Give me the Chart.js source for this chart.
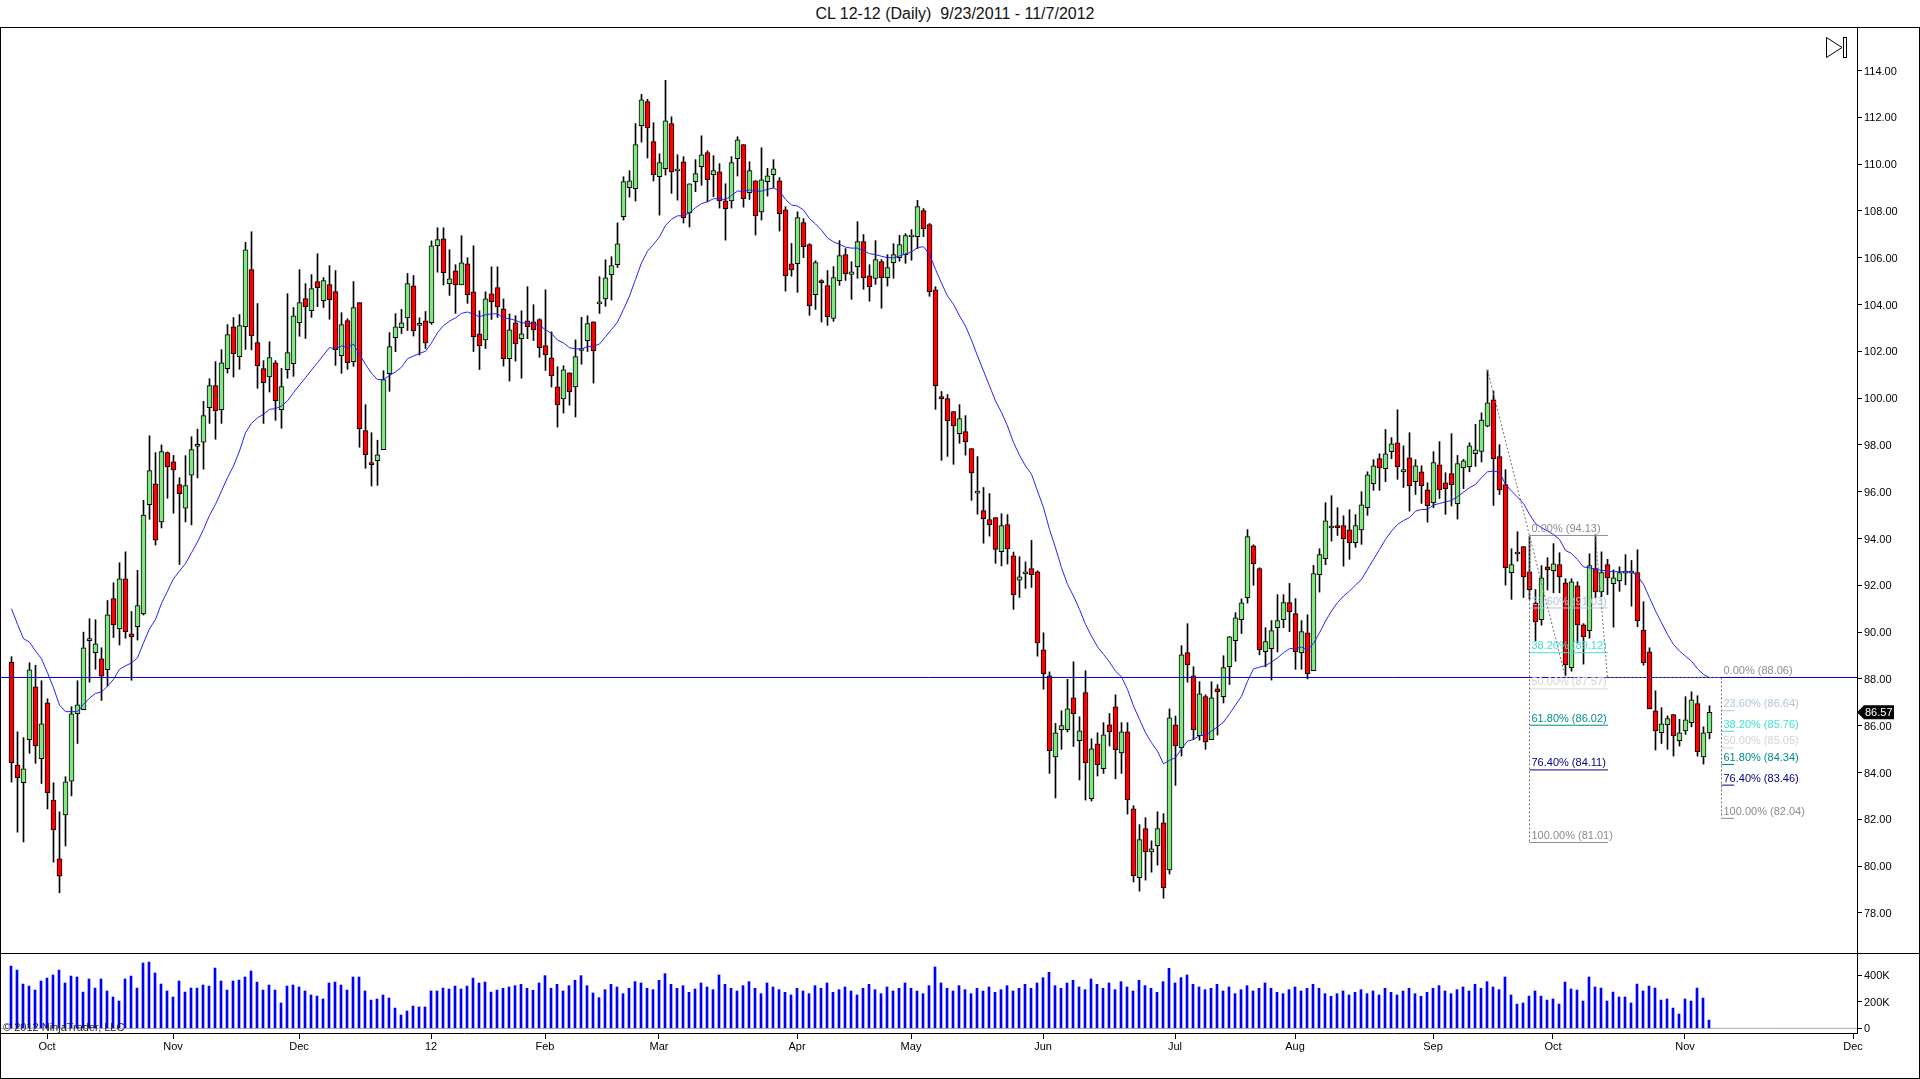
<!DOCTYPE html>
<html>
<head>
<meta charset="utf-8">
<title>CL 12-12 (Daily)</title>
<script src="https://cdn.jsdelivr.net/npm/chart.js@4"></script>
<style>
  html, body { margin: 0; padding: 0; background: #fff; overflow: hidden; }
  #title { position: absolute; left: 0; top: 5px; width: 1910px; text-align: center; white-space: pre;
           font: 16px "Liberation Sans", Arial, sans-serif; color: #111; }
  #frame { position: absolute; left: 0; top: 27px; width: 1918px; height: 1050px; border: 1px solid #000; pointer-events: none; }
  #sep { position: absolute; left: 0; top: 953px; width: 1920px; height: 1px; background: #000; }
  canvas { position: absolute; left: 0; }
  #priceChart { top: 28px; }
  #volumeChart { top: 953px; }
  #endIcon { position: absolute; left: 1820px; top: 32px; }
</style>
</head>
<body>
<div id="title">CL 12-12 (Daily)  9/23/2011 - 11/7/2012</div>
<canvas id="priceChart" width="1920" height="925"></canvas>
<canvas id="volumeChart" width="1920" height="126"></canvas>
<div id="sep"></div>
<div id="frame"></div>
<svg id="endIcon" width="32" height="32"><polygon points="6.5,5.5 6.5,25.5 22,15.5" fill="none" stroke="#000"/><rect x="23.5" y="5.5" width="3" height="20" fill="none" stroke="#000"/></svg>
<script>
// Donnees
const monthTicks = [6, 27, 48, 70, 89, 108, 131, 150, 172, 194, 214, 237, 257, 279, 307];
const monthLabels = ['Oct', 'Nov', 'Dec', '12', 'Feb', 'Mar', 'Apr', 'May', 'Jun', 'Jul', 'Aug', 'Sep', 'Oct', 'Nov', 'Dec'];
const priceTicks = [78, 80, 82, 84, 86, 88, 90, 92, 94, 96, 98, 100, 102, 104, 106, 108, 110, 112, 114];
const volumeTicks = [0, 200, 400];

const high = [
  88.95,85.74,85.49,88.69,88.58,87.92,87.15,83.56,82.32,83.82,
  86.81,87.92,90.0,90.57,90.53,89.33,91.35,92.11,92.96,93.43,
  90.88,92.64,95.63,98.39,97.67,98.0,97.7,97.55,96.6,97.54,
  98.35,98.67,99.86,100.83,101.56,102.07,103.14,103.44,103.57,106.66,
  107.11,104.04,101.6,102.41,101.6,101.27,104.46,103.87,105.49,104.89,
  105.28,106.17,105.15,105.66,105.45,103.65,103.39,104.98,104.08,99.72,
  98.52,98.2,101.17,102.8,103.61,103.79,105.33,105.24,103.43,103.7,
  106.72,107.28,107.28,106.34,105.7,106.94,106.0,106.51,103.73,104.54,
  105.61,105.61,104.24,103.6,103.52,103.73,104.76,103.99,103.39,104.63,
  102.83,101.34,101.38,101.08,102.49,103.45,103.52,103.26,105.19,105.91,
  106.04,107.49,109.46,109.72,111.73,112.98,112.77,111.77,110.44,113.58,
  112.02,110.4,110.32,109.16,110.19,111.21,110.57,110.36,110.02,109.16,
  110.32,111.17,110.83,110.1,109.29,110.7,109.82,110.19,109.42,108.18,
  106.61,107.96,107.67,106.6,105.87,105.06,105.45,105.62,106.73,106.39,
  105.83,107.54,106.99,105.7,106.73,105.92,106.13,106.6,106.96,107.03,
  107.2,108.45,108.1,107.46,104.76,100.28,100.15,99.42,99.72,99.25,
  97.84,97.5,96.18,95.92,94.89,95.06,95.02,93.42,93.22,93.0,
  93.92,92.62,89.97,88.3,86.1,86.64,87.98,88.73,86.38,88.35,
  85.44,85.7,86.13,86.52,87.32,86.13,86.13,82.58,81.77,82.07,
  81.08,82.32,82.24,86.72,86.41,89.42,90.36,88.52,87.88,87.32,
  87.88,87.75,88.99,89.81,90.83,91.42,94.38,93.73,92.75,90.19,
  90.49,91.6,91.6,92.08,91.43,90.49,90.74,92.85,93.56,95.53,
  95.83,95.32,94.97,95.23,95.02,96.0,96.85,97.37,97.62,98.66,
  98.31,99.5,97.96,98.52,97.37,97.11,96.38,97.71,98.14,96.81,
  98.48,97.55,97.38,98.09,98.88,99.37,101.2,100.3,98.01,96.94,
  93.56,94.29,93.65,94.1,91.82,92.84,93.18,93.78,93.39,92.28,
  92.28,92.15,90.36,93.35,94.16,93.43,93.11,92.66,92.79,93.31,
  93.06,93.52,91.3,89.33,87.49,86.77,86.42,86.47,86.27,87.24,
  87.45,87.28,85.95,86.85
];
const low = [
  83.59,81.45,81.03,84.82,84.39,83.53,82.44,80.17,78.86,80.86,
  83.0,85.24,86.68,87.86,88.41,87.08,87.69,89.77,89.45,89.74,
  87.94,89.66,90.73,94.82,93.72,94.45,95.72,95.08,92.89,94.71,
  94.58,96.59,96.96,98.92,98.24,98.92,101.07,100.9,101.23,102.08,
  102.06,100.42,98.92,100.26,99.05,98.71,100.85,100.93,102.64,102.55,
  103.45,103.91,103.87,103.37,101.4,101.06,101.23,101.36,97.9,97.0,
  96.24,96.27,97.8,100.29,101.98,102.76,102.89,102.65,101.84,102.12,
  103.15,105.38,104.83,104.39,103.62,104.84,104.05,101.99,101.22,102.12,
  103.36,103.45,101.37,100.73,101.58,100.85,102.54,102.46,101.74,101.18,
  100.47,98.76,99.36,99.7,99.19,101.45,101.99,100.64,103.62,103.92,
  104.19,105.58,107.61,108.59,108.42,110.94,110.26,109.28,107.82,109.53,
  108.75,108.46,107.48,107.31,108.82,109.09,108.39,108.61,108.12,106.75,
  108.12,109.49,108.16,108.49,106.97,107.61,108.63,108.99,107.14,104.57,
  105.21,104.52,106.0,103.54,103.79,103.25,103.11,103.28,104.82,105.03,
  104.22,105.12,104.65,104.14,104.86,103.84,104.79,105.12,105.85,105.76,
  105.89,106.39,106.9,104.35,99.52,97.34,97.51,97.17,98.07,97.56,
  95.63,95.04,93.8,94.1,92.94,92.83,92.91,90.97,91.48,91.87,
  91.91,88.97,87.56,83.96,82.91,84.99,85.73,85.11,83.68,82.82,
  82.78,83.85,83.96,85.13,83.73,83.96,82.22,79.32,78.93,79.4,
  79.74,80.04,78.63,79.66,83.45,84.7,87.86,85.4,85.38,84.99,
  85.4,85.6,86.97,87.76,88.75,89.94,91.24,92.0,89.03,88.52,
  87.95,89.15,90.19,90.02,88.41,88.41,88.0,88.35,91.71,92.88,
  93.89,94.13,92.82,93.11,93.62,93.75,94.99,96.06,96.06,96.43,
  97.41,96.53,96.18,95.17,95.88,95.5,94.7,95.32,95.71,95.03,
  95.39,94.83,96.13,96.85,97.08,97.27,98.77,95.41,95.88,92.01,
  91.4,93.03,91.48,91.4,89.62,90.3,91.8,91.68,91.68,88.15,
  88.33,89.54,88.63,89.74,91.47,91.51,91.6,90.21,91.74,92.02,
  91.11,90.23,88.59,86.72,84.96,85.24,84.99,84.7,85.13,85.63,
  85.95,84.7,84.36,85.44
];
const open = [
  88.72,84.32,83.56,85.40,87.66,84.59,86.98,82.82,80.31,82.19,
  83.63,86.51,86.68,89.63,89.12,88.86,88.39,91.43,90.14,92.28,
  89.93,90.23,90.78,95.45,96.34,94.71,97.67,97.28,96.3,95.3,
  96.71,97.94,98.12,99.59,100.53,99.51,101.26,103.05,101.77,103.05,
  105.49,102.37,101.26,100.9,101.51,99.51,101.22,101.47,103.22,104.25,
  103.74,104.98,104.16,104.85,104.55,101.81,103.31,101.56,104.08,98.61,
  97.24,97.33,97.8,101.04,102.58,103.01,103.43,104.8,103.11,103.3,
  103.22,106.51,106.81,104.89,105.44,104.84,105.74,104.54,102.75,102.49,
  104.46,104.72,103.82,101.68,103.22,102.54,103.3,103.26,103.35,102.24,
  101.72,100.48,99.97,101.08,100.48,102.04,102.45,103.26,104.03,104.24,
  105.27,105.7,107.75,108.99,108.95,111.64,112.67,110.96,109.46,109.8,
  111.73,109.71,110.1,107.91,109.25,109.89,110.49,109.55,109.67,108.43,
  108.43,110.23,110.83,108.78,109.29,107.96,109.25,109.55,109.29,108.05,
  105.74,105.74,107.5,106.56,104.42,105.02,104.81,103.4,105.02,106.13,
  105.28,105.62,106.69,105.23,105.11,105.83,105.15,105.79,106.0,106.13,
  106.89,106.9,108.01,107.41,104.63,100.06,99.98,99.42,98.48,98.57,
  97.84,95.94,95.19,94.81,94.89,93.44,94.59,93.26,92.22,92.49,
  92.71,92.58,89.24,88.13,84.67,85.83,85.83,87.19,85.36,87.41,
  82.88,85.23,84.16,86.04,86.81,84.84,85.74,82.45,79.5,81.6,
  80.61,80.87,81.85,79.84,86.04,85.06,89.12,88.13,85.57,87.24,
  85.4,87.58,87.24,88.52,89.63,90.53,91.47,93.69,92.71,89.16,
  89.29,90.19,90.53,91.26,90.79,89.12,89.97,88.35,92.45,93.14,
  94.45,94.55,94.55,94.37,93.82,94.37,95.32,96.34,97.41,96.98,
  97.71,98.09,96.85,97.45,96.43,96.85,96.08,95.53,97.15,96.38,
  96.77,95.49,97.02,97.07,97.62,97.72,98.8,99.93,97.5,96.3,
  92.54,93.34,93.65,92.58,91.24,90.53,92.79,92.62,92.88,92.11,
  88.48,91.98,90.31,90.06,92.71,91.72,92.88,92.07,92.19,92.52,
  92.52,92.54,90.09,89.16,86.64,85.7,86.04,86.47,85.36,85.78,
  86.13,86.94,84.67,85.7
];
const close = [
  84.42,83.78,84.16,88.39,85.14,86.08,83.13,81.55,79.57,83.60,
  86.51,86.89,89.33,89.72,89.5,88.12,90.74,90.31,92.28,90.02,
  89.79,91.13,95.0,96.90,93.93,97.71,97.06,96.93,95.92,96.26,
  97.8,98.02,99.25,100.53,99.46,101.51,102.71,101.9,103.1,106.34,
  102.67,101.39,100.66,101.73,99.89,100.49,101.94,103.52,104.08,103.91,
  104.68,104.72,105.02,104.21,102.07,103.14,101.51,103.87,98.69,97.58,
  97.16,97.58,100.79,102.2,103.05,103.22,104.89,102.88,103.19,102.36,
  106.51,106.77,105.36,105.1,104.84,105.78,104.42,102.62,102.24,104.24,
  104.12,103.9,101.68,102.92,102.32,102.75,103.05,102.92,102.15,101.85,
  100.95,99.71,101.21,100.27,101.77,102.12,103.18,102.02,104.11,105.14,
  105.66,106.59,109.25,109.29,110.83,112.75,111.55,109.55,110.06,111.85,
  109.67,109.79,107.71,109.16,109.59,110.4,109.33,109.72,108.43,108.09,
  110.06,111.04,108.52,109.72,107.79,109.33,109.5,109.8,107.88,105.23,
  105.48,107.71,106.47,103.95,105.79,104.93,103.48,105.15,106.09,105.32,
  105.4,106.69,105.15,104.76,105.92,105.15,105.58,106.13,106.56,106.94,
  106.97,108.18,107.24,104.55,100.53,99.98,99.04,98.82,99.12,98.14,
  96.8,96.02,94.85,94.59,93.53,94.55,93.57,91.6,92.36,92.58,
  92.45,89.54,88.22,84.93,85.7,86.0,86.72,86.51,85.78,84.42,
  85.01,84.33,85.61,85.74,84.97,85.74,82.83,79.59,81.13,80.61,
  80.74,81.6,79.07,86.34,85.14,89.03,88.6,85.83,87.36,85.31,
  87.19,87.44,88.48,89.8,90.61,91.25,94.08,92.92,89.25,89.59,
  90.06,90.49,91.26,90.87,89.16,90.02,88.22,92.5,93.31,94.76,
  94.53,94.46,93.99,93.82,94.55,95.44,96.72,97.11,97.02,97.62,
  98.05,97.07,96.94,96.26,97.11,96.26,95.4,97.24,96.08,96.13,
  96.3,97.2,97.32,97.96,97.79,99.06,99.8,97.41,96.08,92.75,
  92.88,93.42,92.36,91.81,90.43,92.32,92.66,92.92,92.36,88.6,
  92.15,90.31,89.8,92.84,91.72,92.54,92.32,92.32,92.54,92.6,
  92.6,90.49,88.69,86.72,85.78,86.08,86.3,85.57,85.7,86.25,
  87.11,84.89,85.7,86.57
];
const movingAvg = [
  91.0,90.33,89.72,89.57,89.19,88.86,88.26,87.62,86.88,86.6,
  86.6,86.6,86.91,87.18,87.38,87.44,87.69,87.98,88.41,88.56,
  88.68,88.9,89.54,90.14,90.54,91.23,91.75,92.28,92.61,92.93,
  93.39,93.85,94.39,94.99,95.46,96.03,96.6,97.1,97.74,98.52,
  98.92,99.16,99.31,99.52,99.55,99.66,99.88,100.23,100.56,100.87,
  101.2,101.51,101.84,102.16,102.1,102.23,102.16,102.31,101.87,101.44,
  101.06,100.79,100.79,100.97,101.12,101.32,101.68,101.8,101.91,102.0,
  102.36,102.79,103.1,103.29,103.43,103.62,103.68,103.58,103.48,103.56,
  103.6,103.6,103.43,103.39,103.32,103.22,103.2,103.18,103.09,102.93,
  102.76,102.48,102.36,102.15,102.11,102.09,102.21,102.21,102.31,102.62,
  102.93,103.25,103.79,104.36,105.07,105.78,106.28,106.57,106.89,107.38,
  107.64,107.79,107.79,107.92,108.14,108.31,108.39,108.52,108.52,108.48,
  108.66,108.85,108.83,108.9,108.82,108.85,108.92,108.98,108.85,108.49,
  108.25,108.21,108.04,107.67,107.44,107.18,106.84,106.68,106.57,106.45,
  106.41,106.41,106.3,106.17,106.13,106.06,106.0,106.0,106.07,106.16,
  106.24,106.43,106.47,106.14,105.5,104.91,104.36,104.01,103.51,103.08,
  102.48,101.8,101.16,100.52,99.88,99.38,98.81,98.1,97.56,97.1,
  96.75,96.03,95.32,94.39,93.6,92.75,92.04,91.54,90.97,90.33,
  89.83,89.37,89.05,88.72,88.33,88.09,87.55,86.84,86.27,85.7,
  85.27,84.91,84.37,84.52,84.63,85.01,85.34,85.41,85.58,85.58,
  85.77,85.95,86.15,86.51,86.88,87.26,87.9,88.43,88.5,88.57,
  88.72,88.9,89.12,89.29,89.3,89.36,89.23,89.52,89.97,90.47,
  90.9,91.26,91.54,91.75,92.01,92.25,92.68,93.11,93.53,93.96,
  94.32,94.6,94.77,94.89,95.17,95.24,95.24,95.43,95.5,95.56,
  95.63,95.79,95.98,96.17,96.31,96.6,96.85,96.88,96.84,96.31,
  96.03,95.77,95.5,95.03,94.64,94.46,94.32,94.17,93.96,93.49,
  93.36,93.1,92.78,92.75,92.68,92.64,92.61,92.58,92.58,92.58,
  92.58,92.39,92.04,91.47,90.9,90.4,89.9,89.47,89.19,88.97,
  88.76,88.43,88.19,88.05
];
// Volume en milliers
const volume = [
  467,437,332,317,287,355,377,400,437,340,
  392,385,272,370,302,370,280,235,205,370,
  392,302,490,497,415,332,280,235,355,272,
  302,302,325,317,452,355,287,355,362,385,
  430,347,287,325,287,190,317,325,310,280,
  250,242,220,340,347,325,287,385,385,280,
  212,220,250,227,152,100,130,167,160,160,
  280,280,302,295,317,295,317,377,340,347,
  272,287,300,310,320,330,300,285,340,395,
  300,330,280,320,360,395,320,265,230,290,
  330,310,260,300,350,340,300,290,360,410,
  330,300,320,270,295,340,310,290,400,330,
  300,280,320,350,300,260,340,310,290,270,
  250,300,280,260,320,300,340,270,290,310,
  280,250,300,330,290,260,310,280,300,340,
  300,280,260,320,460,340,300,280,320,290,
  260,300,280,310,270,290,320,280,300,330,
  300,340,380,420,320,300,340,360,310,290,
  370,330,300,340,290,350,310,280,360,320,
  300,270,350,450,340,380,400,330,310,290,
  300,330,280,310,260,290,320,280,300,340,
  300,270,260,290,310,280,300,330,300,260,
  240,260,280,250,270,290,260,280,250,300,
  270,250,280,300,260,240,270,300,320,280,
  260,290,310,280,330,300,350,310,290,385,
  250,182,190,242,280,242,212,220,182,347,
  295,287,205,385,310,302,205,272,235,235,
  190,332,280,317,302,212,220,152,107,220,
  205,302,227,62
];

// Niveaux de Fibonacci
const fibNames = ['0.00%', '23.60%', '38.20%', '50.00%', '61.80%', '76.40%', '100.00%'];
const fibColors = ['#8c8c8c', '#b0c4de', '#40e0d0', '#d3d3d3', '#008b8b', '#000080', '#8c8c8c'];
const fibLevelsA = [94.13, 91.03, 89.12, 87.57, 86.02, 84.11, 81.01];
const fibLevelsB = [88.06, 86.64, 85.76, 85.05, 84.34, 83.46, 82.04];
const fibRangeA = [253, 266.07];
const fibRangeB = [285, 287.1];
const supportLevel = 88.06;
const lastPrice = 86.57;

const FONT = '"Liberation Sans", Arial, sans-serif';
const AXIS_W = 63;

const barIndex = high.map((v, i) => i);
const wicks = barIndex.map(i => ({ x: i, y: [low[i], high[i]] }));
const bodies = barIndex.map(i => ({ x: i, y: [open[i], close[i]] }));
const volumeBars = barIndex.map(i => ({ x: i, y: volume[i] }));
const avgLine = barIndex.map(i => ({ x: i, y: movingAvg[i] }));

function lineSet(points, color, order, dash) {
  return {
    type: 'line', data: points, borderColor: color, borderWidth: 1, borderDash: dash || [],
    pointRadius: 0, tension: 0, fill: false, order: order, parsing: false, spanGaps: true
  };
}

const fibSets = [];
fibLevelsA.forEach((v, k) => fibSets.push(lineSet([{ x: fibRangeA[0], y: v }, { x: fibRangeA[1], y: v }], fibColors[k], 3)));
fibLevelsB.forEach((v, k) => fibSets.push(lineSet([{ x: fibRangeB[0], y: v }, { x: fibRangeB[1], y: v }], fibColors[k], 3)));

// Traits pointilles des deux outils Fibonacci
const dashGray = '#707070';
const toolSets = [
  lineSet([{ x: fibRangeA[0], y: fibLevelsA[0] }, { x: fibRangeA[0], y: fibLevelsA[6] }], dashGray, 2, [2, 2]),
  lineSet([{ x: fibRangeB[0], y: fibLevelsB[0] }, { x: fibRangeB[0], y: fibLevelsB[6] }], dashGray, 2, [2, 2]),
  lineSet([{ x: 246, y: 101.2 }, { x: 259, y: 88.06 }], dashGray, 2, [2, 2]),
  lineSet([{ x: 264, y: 94.13 }, { x: 266, y: 88.06 }], dashGray, 2, [2, 2]),
  lineSet([{ x: 259, y: 88.06 }, { x: 285, y: 88.06 }], dashGray, 0, [2, 2])
];

// Textes des niveaux et etiquette du dernier prix
const priceOverlay = {
  id: 'priceOverlay',
  afterDatasetsDraw(chart) {
    const c = chart.ctx, xs = chart.scales.x, ys = chart.scales.y;
    c.save();
    c.font = '11px ' + FONT;
    c.textBaseline = 'bottom';
    c.textAlign = 'left';
    [[fibLevelsA, fibRangeA], [fibLevelsB, fibRangeB]].forEach(tool => {
      tool[0].forEach((v, k) => {
        c.fillStyle = fibColors[k];
        c.fillText(fibNames[k] + ' (' + v.toFixed(2) + ')', xs.getPixelForValue(tool[1][0]) + 2, ys.getPixelForValue(v) - 1);
      });
    });
    const ly = ys.getPixelForValue(lastPrice);
    c.fillStyle = '#000';
    c.beginPath();
    c.moveTo(1857, ly);
    c.lineTo(1864, ly - 7);
    c.lineTo(1894, ly - 7);
    c.lineTo(1894, ly + 7);
    c.lineTo(1864, ly + 7);
    c.closePath();
    c.fill();
    c.fillStyle = '#fff';
    c.textBaseline = 'middle';
    c.fillText(lastPrice.toFixed(2), 1865, ly + 0.5);
    c.restore();
  }
};

const copyrightText = {
  id: 'copyrightText',
  afterDatasetsDraw(chart) {
    const c = chart.ctx;
    c.save();
    c.font = '11px ' + FONT;
    c.fillStyle = '#222';
    c.textBaseline = 'middle';
    c.fillText('\u00a9 2012 NinjaTrader, LLC', 3, 75);
    c.restore();
  }
};

new Chart(document.getElementById('priceChart'), {
  type: 'bar',
  data: {
    datasets: [
      lineSet([{ x: -2, y: supportLevel }, { x: 308, y: supportLevel }], '#0000d8', 1),
      lineSet(avgLine, '#2222ff', 1.5),
      ...fibSets,
      ...toolSets,
      {
        data: bodies, order: 5, grouped: false, maxBarThickness: 5, categoryPercentage: 1, barPercentage: 1,
        backgroundColor: bodies.map(b => b.y[1] >= b.y[0] ? '#80e680' : '#ff0000'),
        borderColor: '#000', borderWidth: 1, borderSkipped: false
      },
      {
        data: wicks, order: 6, grouped: false, maxBarThickness: 1, categoryPercentage: 1, barPercentage: 1,
        backgroundColor: '#000', borderWidth: 0
      }
    ]
  },
  options: {
    responsive: false, animation: false, devicePixelRatio: 1,
    layout: { padding: 0 },
    plugins: { legend: { display: false }, tooltip: { enabled: false } },
    scales: {
      x: { type: 'linear', display: false, offset: false, grid: { offset: false }, min: -11.5 / 6, max: 1845.5 / 6 },
      y: {
        position: 'right', min: 76.286, max: 115.816,
        afterBuildTicks: s => { s.ticks = priceTicks.map(v => ({ value: v })); },
        afterFit: s => { s.width = AXIS_W; s.paddingTop = 0; s.paddingBottom = 0; },
        border: { display: true, color: '#000', width: 1 },
        grid: { drawOnChartArea: false, drawTicks: true, tickLength: 5, tickColor: '#000' },
        ticks: { color: '#000', padding: 2, labelOffset: 1, font: { family: FONT, size: 11 }, callback: v => v.toFixed(2) }
      }
    }
  },
  plugins: [priceOverlay]
});

new Chart(document.getElementById('volumeChart'), {
  type: 'bar',
  data: {
    datasets: [
      lineSet([{ x: -2, y: 0 }, { x: 308, y: 0 }], '#a9a9a9', 2),
      {
        data: volumeBars, order: 1, grouped: false, maxBarThickness: 2, categoryPercentage: 1, barPercentage: 1,
        backgroundColor: '#0000ff', borderWidth: 0
      }
    ]
  },
  options: {
    responsive: false, animation: false, devicePixelRatio: 1,
    layout: { padding: 0 },
    plugins: { legend: { display: false }, tooltip: { enabled: false } },
    scales: {
      x: {
        type: 'linear', offset: false, min: -11 / 6, max: 1846 / 6,
        afterBuildTicks: s => { s.ticks = monthTicks.map(v => ({ value: v })); },
        afterFit: s => { s.height = 46; s.paddingLeft = 0; s.paddingRight = 0; },
        border: { display: true, color: '#000', width: 1 },
        grid: { offset: false, drawOnChartArea: false, drawTicks: true, tickLength: 6, tickColor: '#000' },
        ticks: {
          color: '#000', padding: 1, autoSkip: false, maxRotation: 0, font: { family: FONT, size: 11 },
          callback: v => monthLabels[monthTicks.indexOf(v)]
        }
      },
      y: {
        position: 'right', min: -35, max: 565,
        afterBuildTicks: s => { s.ticks = volumeTicks.map(v => ({ value: v })); },
        afterFit: s => { s.width = AXIS_W; s.paddingTop = 0; s.paddingBottom = 0; },
        border: { display: true, color: '#000', width: 1 },
        grid: { drawOnChartArea: false, drawTicks: true, tickLength: 5, tickColor: '#000' },
        ticks: { color: '#000', padding: 2, labelOffset: 1, font: { family: FONT, size: 11 }, callback: v => v === 0 ? '0' : v + 'K' }
      }
    }
  },
  plugins: [copyrightText]
});
</script>
</body>
</html>
